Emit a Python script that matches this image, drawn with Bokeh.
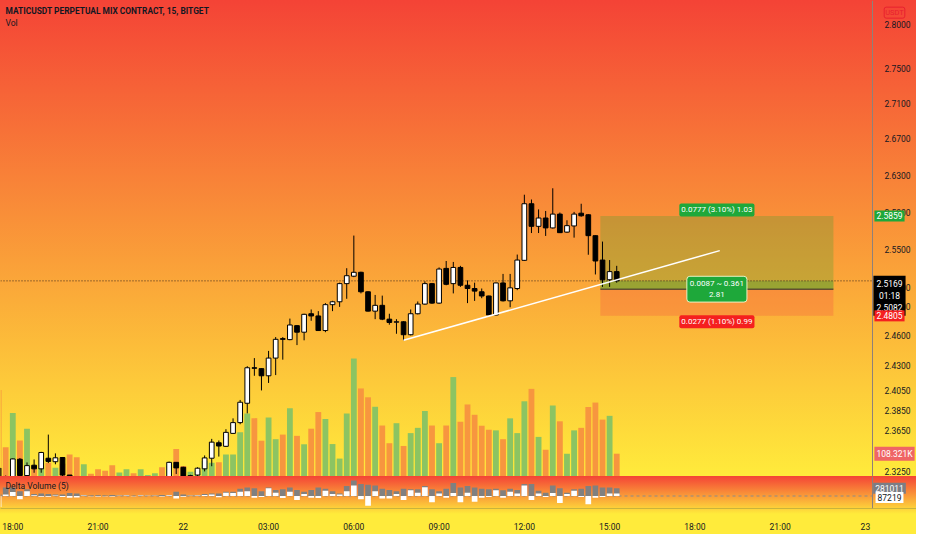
import numpy as np
from bokeh.plotting import figure
from bokeh.models import (Range1d, LinearScale, FixedTicker, PrintfTickFormatter,
                          Label, ColumnDataSource, LogAxis, LinearAxis)
from bokeh.layouts import column
from bokeh.embed import file_html
from bokeh.resources import INLINE

# ---------------- data (15-minute bars, index 0 = 21st 18:00) ----------------
bar_index = list(range(-2, 86))
opens = [2.3282, 2.3185, 2.3165, 2.3368, 2.3210, 2.3310, 2.3275, 2.3378, 2.3344, 2.3385,
         2.3215, 2.3170, 2.3120, 2.3160, 2.3150, 2.3130, 2.3115, 2.3075, 2.3095, 2.3125,
         2.3110, 2.3140, 2.3150, 2.3165, 2.3140, 2.3338, 2.3290, 2.3190, 2.3215, 2.3275,
         2.3378, 2.3529, 2.3494, 2.3621, 2.3727, 2.3919, 2.4275, 2.4266, 2.4194, 2.4373,
         2.4571, 2.4561, 2.4704, 2.4637, 2.4827, 2.4804, 2.4654, 2.4921, 2.4951, 2.5140,
         2.5218, 2.5259, 2.5055, 2.4854, 2.4914, 2.4771, 2.4740, 2.4744, 2.4611, 2.4827,
         2.4927, 2.5140, 2.4937, 2.5300, 2.5140, 2.5310, 2.5123, 2.5089, 2.5055, 2.5011,
         2.4814, 2.5147, 2.4961, 2.5089, 2.5385, 2.5990, 2.5747, 2.5836, 2.5730, 2.5878,
         2.5685, 2.5751, 2.5888, 2.5871, 2.5647, 2.5388, 2.5181, 2.5266]
highs = [2.3290, 2.3210, 2.3375, 2.3380, 2.3337, 2.3366, 2.3440, 2.3609, 2.3425, 2.3390,
         2.3212, 2.3185, 2.3175, 2.3170, 2.3160, 2.3140, 2.3120, 2.3100, 2.3130, 2.3130,
         2.3150, 2.3155, 2.3175, 2.3170, 2.3345, 2.3340, 2.3295, 2.3218, 2.3290, 2.3405,
         2.3567, 2.3551, 2.3662, 2.3769, 2.3952, 2.4291, 2.4373, 2.4270, 2.4446, 2.4587,
         2.4587, 2.4777, 2.4710, 2.4827, 2.4871, 2.4854, 2.4937, 2.4961, 2.5150, 2.5302,
         2.5648, 2.5265, 2.5060, 2.5022, 2.5015, 2.4827, 2.4771, 2.4750, 2.4871, 2.4954,
         2.5164, 2.5147, 2.5310, 2.5378, 2.5368, 2.5327, 2.5174, 2.5150, 2.5089, 2.5015,
         2.5150, 2.5242, 2.5242, 2.5446, 2.6088, 2.6036, 2.5929, 2.5912, 2.6158, 2.5895,
         2.5812, 2.5902, 2.5990, 2.5878, 2.5650, 2.5584, 2.5388, 2.5327]
lows = [2.3150, 2.3140, 2.3150, 2.3180, 2.3190, 2.3237, 2.3237, 2.3331, 2.3319, 2.3200,
        2.3150, 2.3100, 2.3110, 2.3140, 2.3120, 2.3110, 2.3060, 2.3070, 2.3090, 2.3105,
        2.3105, 2.3135, 2.3145, 2.3130, 2.3135, 2.3225, 2.3180, 2.3160, 2.3190, 2.3250,
        2.3300, 2.3394, 2.3488, 2.3615, 2.3711, 2.3819, 2.4194, 2.4047, 2.4122, 2.4201,
        2.4357, 2.4555, 2.4505, 2.4554, 2.4754, 2.4650, 2.4637, 2.4854, 2.4898, 2.4982,
        2.5208, 2.5038, 2.4850, 2.4771, 2.4761, 2.4714, 2.4621, 2.4554, 2.4604, 2.4820,
        2.4921, 2.4930, 2.4930, 2.5123, 2.5038, 2.5106, 2.4937, 2.4960, 2.4988, 2.4810,
        2.4810, 2.4954, 2.4894, 2.5072, 2.5378, 2.5675, 2.5675, 2.5644, 2.5723, 2.5675,
        2.5679, 2.5626, 2.5850, 2.5444, 2.5236, 2.5106, 2.5106, 2.5150]
closes = [2.3180, 2.3160, 2.3371, 2.3210, 2.3306, 2.3275, 2.3434, 2.3347, 2.3382, 2.3215,
          2.3170, 2.3120, 2.3160, 2.3150, 2.3130, 2.3115, 2.3075, 2.3095, 2.3125, 2.3110,
          2.3140, 2.3150, 2.3165, 2.3140, 2.3338, 2.3284, 2.3200, 2.3210, 2.3281, 2.3381,
          2.3535, 2.3497, 2.3631, 2.3727, 2.3929, 2.4275, 2.4270, 2.4194, 2.4373, 2.4564,
          2.4564, 2.4711, 2.4637, 2.4821, 2.4804, 2.4654, 2.4921, 2.4951, 2.5140, 2.5223,
          2.5259, 2.5055, 2.4854, 2.4914, 2.4771, 2.4737, 2.4744, 2.4611, 2.4827, 2.4927,
          2.5140, 2.4937, 2.5293, 2.5133, 2.5310, 2.5123, 2.5089, 2.5062, 2.5011, 2.4814,
          2.5147, 2.4961, 2.5096, 2.5388, 2.5990, 2.5747, 2.5836, 2.5730, 2.5878, 2.5679,
          2.5754, 2.5878, 2.5860, 2.5647, 2.5378, 2.5181, 2.5266, 2.5169]
volume_k = [411, 139, 302, 171, 227, 50, 40, 65, 42, 60, 104, 91, 58, 13, 35, 27, 53, 19,
            35, 16, 35, 7, 16, 44, 50, 130, 50, 22, 27, 73, 65, 68, 104, 104, 210, 299, 277,
            170, 280, 177, 199, 324, 193, 153, 227, 306, 273, 154, 85, 299, 560, 418, 376,
            331, 242, 158, 253, 145, 206, 231, 311, 242, 158, 242, 472, 260, 342, 293, 241,
            222, 219, 177, 276, 206, 357, 416, 188, 127, 337, 262, 108, 219, 231, 330, 351,
            270, 288, 108.321]
delta_gray_k = [84, 308, 308, 168, 243, 75, 93, 75, 56, 56, 112, 93, 37, 19, 28, 19, 37, 19,
                28, 9, 28, 9, 19, 37, 37, 149, 56, 19, 28, 75, 93, 93, 149, 149, 261, 308, 280,
                168, 308, 215, 243, 308, 215, 149, 215, 308, 261, 168, 93, 355, 560, 429, 401,
                373, 261, 215, 168, 261, 243, 243, 355, 243, 168, 261, 467, 308, 355, 308, 261,
                243, 261, 205, 261, 215, 429, 429, 187, 121, 373, 280, 121, 243, 261, 355, 373,
                308, 308, 281.011]
delta_white_k = [-392, 56, 140, -112, 168, 28, -28, -28, 20, -37, -65, -56, 20, -10, -15, -10,
                 -20, 10, 15, -5, 15, 5, 10, -20, 25, -93, -30, 10, 15, 40, 50, -40, 121, 112,
                 149, 168, -65, -37, 280, 121, -75, 150, -140, 75, -65, -75, 187, 75, 56, 168,
                 373, -112, -345, 168, -93, -93, 75, -140, 205, 121, 317, -224, 93, -65, 112,
                 -224, 121, -205, -65, -37, 205, -65, 149, 93, 373, -140, 93, -37, 112, -252,
                 75, 187, -37, -299, -65, -37, 93, 87.219]

time_ticks = [0, 12, 24, 36, 48, 60, 72, 84, 96, 108, 120]
time_labels = ["18:00", "21:00", "22", "03:00", "06:00", "09:00", "12:00", "15:00",
               "18:00", "21:00", "23"]
price_ticks = [2.80, 2.75, 2.71, 2.67, 2.63, 2.59, 2.55, 2.51, 2.49, 2.46, 2.43, 2.405,
               2.385, 2.365, 2.345, 2.325]

last_price = 2.5169
entry_price = 2.5082
target_price = 2.5859
stop_price = 2.4805
position_start = 82.7
position_end = 115.5
trend_x = [55.0, 99.5]
trend_y = [2.4554, 2.5488]
last_volume = 108321
last_gray = 281011
last_white = 87219

title_text = "MATICUSDT PERPETUAL MIX CONTRACT, 15, BITGET"
target_text = "0.0777 (3.10%) 1.03"
stop_text = "0.0277 (1.10%) 0.99"
mid_text = "0.0087 ~ 0.361\n2.81"
countdown = "01:18"

# ---------------- layout / style ----------------
W = 916
AXIS_W = 44
H_MAIN = 476
H_DELTA = 38
H_XAX = 20
X_START, X_END = -1.73, 121.0
X_RIGHT = X_END + AXIS_W * (X_END - X_START) / (W - AXIS_W)
P_LO, P_HI = 2.32008, 2.82843
VOL_HI = 2.2596e6
D_LO, D_HI = -448e3, 700e3
FONT = "Roboto"
TXT = "#131722"
UP_VOL, DN_VOL = "#8cc462", "#f7963f"
AXIS_LINE = "#8f8079"

o = np.array(opens); c = np.array(closes)
up = c >= o
src = ColumnDataSource(dict(
    i=bar_index, high=highs, low=lows,
    btop=np.maximum(o, c), bbot=np.minimum(o, c),
    bcolor=["#ffffff" if u else "#000000" for u in up],
    vol=[v * 1000 for v in volume_k],
    vcolor=[UP_VOL if u else DN_VOL for u in up],
    gray=[v * 1000 for v in delta_gray_k],
    white=[v * 1000 for v in delta_white_k],
))

x_range = Range1d(X_START, X_RIGHT)

# ---------------- main pane ----------------
p1 = figure(width=W, height=H_MAIN, x_range=x_range, y_range=Range1d(P_LO, P_HI),
            y_axis_type="log", x_axis_location=None, y_axis_location=None,
            output_backend="svg", toolbar_location=None, min_border=0)
p1.styles = {"background": "linear-gradient(180deg, #f44336 0%, #ffeb3b 100%)"}
p1.background_fill_alpha = 0
p1.border_fill_alpha = 0
p1.outline_line_color = None
p1.grid.visible = False

ya = LogAxis(fixed_location=X_END, ticker=FixedTicker(ticks=price_ticks),
             formatter=PrintfTickFormatter(format="%.4f"))
ya.major_tick_line_color = None
ya.minor_tick_line_color = None
ya.major_label_standoff = 6
ya.major_label_text_font = FONT
ya.major_label_text_font_size = "8.5px"
ya.major_label_text_color = TXT
ya.axis_line_color = AXIS_LINE
p1.add_layout(ya, "right")

p1.extra_y_ranges = {"vol": Range1d(0, VOL_HI)}
p1.extra_y_scales = {"vol": LinearScale()}

# volume
p1.vbar(x="i", top="vol", bottom=0, width=0.82, fill_color="vcolor", line_color=None,
        y_range_name="vol", source=src)

# position tool
p1.quad(left=position_start, right=position_end, bottom=entry_price, top=target_price,
        fill_color="#2e9e2e", fill_alpha=0.25, line_color=None)
p1.quad(left=position_start, right=position_end, bottom=stop_price, top=entry_price,
        fill_color="#f23645", fill_alpha=0.22, line_color=None)
p1.quad(left=position_start, right=position_end, bottom=entry_price, top=last_price,
        fill_color="#2e9e2e", fill_alpha=0.3, line_color=None)
p1.segment(x0=position_start, x1=position_end, y0=entry_price, y1=entry_price,
           line_color="#2b2b2b", line_width=1)

# last price line
p1.segment(x0=X_START, x1=X_END, y0=last_price, y1=last_price, line_color="#3d2b1f",
           line_dash="1 2", line_width=1)

# candles
p1.segment(x0="i", x1="i", y0="low", y1="high", line_color="#000000", line_width=1, source=src)
p1.vbar(x="i", width=0.66, top="btop", bottom="bbot", fill_color="bcolor",
        line_color="#000000", line_width=1, source=src)

# trend line
p1.line(trend_x, trend_y, line_color="#ffffff", line_width=1.5)


def lab(fig, **kw):
    base = dict(text_font=FONT, text_font_size="8.5px", text_baseline="middle")
    base.update(kw)
    fig.add_layout(Label(**base))


# titles
lab(p1, x=X_START, y=2.8159, x_offset=5, text=title_text, text_color=TXT,
    text_font_style="bold", text_font_size="8.4px")
lab(p1, x=X_START, y=2.8023, x_offset=5, text="Vol", text_color=TXT)

# position labels
mid_x = (position_start + position_end) / 2
lab(p1, x=mid_x, y=target_price, y_offset=6, text=target_text, text_align="center",
    text_color="#ffffff", text_font_size="8px", background_fill_color="#1ea83a",
    padding=2, border_radius=2)
lab(p1, x=mid_x, y=stop_price, y_offset=-6, text=stop_text, text_align="center",
    text_color="#ffffff", text_font_size="8px", background_fill_color="#f51f1f",
    padding=2, border_radius=2)
lab(p1, x=mid_x, y=entry_price, text=mid_text, text_align="center",
    text_color="#ffffff", text_font_size="8px", background_fill_color="#1ea83a",
    border_line_color="#e9f2c4", border_line_width=1, padding=3, border_radius=3)

# axis price labels
lab(p1, x=X_END, y=2.8165, x_offset=22, y_offset=-2, text="USDT", text_align="center",
    text_color="#e8202f", text_font_size="7.5px", border_line_color="#e8202f",
    border_line_width=1, padding=1, border_radius=2)
lab(p1, x=X_END, y=target_price, x_offset=17, text="2.5859", text_align="center",
    text_color="#ffffff", background_fill_color="#1ea83a", padding=2)
lab(p1, x=X_END, y=last_price, x_offset=17, y_offset=5, text_baseline="top",
    text="%.4f\n%s\n%.4f" % (last_price, countdown, entry_price), text_align="center",
    text_color="#ffffff", background_fill_color="#000000", padding=3)
lab(p1, x=X_END, y=stop_price, x_offset=17, text="2.4805", text_align="center",
    text_color="#ffffff", background_fill_color="#f51f1f", padding=2)
lab(p1, x=X_END, y=last_volume, y_range_name="vol", x_offset=22, text="108.321K",
    text_align="center", text_color="#ffffff", background_fill_color="#ef6565", padding=2)

# ---------------- delta volume pane ----------------
p2 = figure(width=W, height=H_DELTA + H_XAX, x_range=x_range, y_range=Range1d(D_LO, D_HI),
            x_axis_location="below", y_axis_location=None,
            output_backend="svg", toolbar_location=None,
            min_border_left=0, min_border_right=0, min_border_top=0,
            min_border_bottom=H_XAX)
p2.styles = {"background": "linear-gradient(180deg, #f44336 0px, #ffeb3b %dpx, #ffeb3b 100%%)" % H_DELTA}
p2.background_fill_alpha = 0
p2.border_fill_alpha = 0
p2.outline_line_color = None
p2.grid.visible = False

xa = p2.xaxis[0]
xa.ticker = FixedTicker(ticks=time_ticks)
xa.major_label_overrides = {t: s for t, s in zip(time_ticks, time_labels)}
xa.major_tick_line_color = None
xa.minor_tick_line_color = None
xa.major_label_standoff = 7
xa.major_label_text_font = FONT
xa.major_label_text_font_size = "8.5px"
xa.major_label_text_color = TXT
xa.axis_line_color = "#c9b43c"

yb = LinearAxis(fixed_location=X_END, ticker=FixedTicker(ticks=[]))
yb.major_tick_line_color = None
yb.minor_tick_line_color = None
yb.major_label_text_alpha = 0
yb.axis_line_color = AXIS_LINE
p2.add_layout(yb, "right")

p2.segment(x0=X_START, x1=X_END, y0=0, y1=0, line_color="#8f8a86", line_dash="3 3",
           line_width=1)
p2.vbar(x="i", top="gray", bottom=0, width=0.8, fill_color="#808080", line_color=None, source=src)
p2.vbar(x="i", top="white", bottom=0, width=0.8, fill_color="#ffffff", line_color=None, source=src)

lab(p2, x=X_START, y=364e3, x_offset=5, text="Delta Volume (5)", text_color=TXT)
lab(p2, x=X_END, y=last_gray, x_offset=17, text=str(last_gray), text_align="center",
    text_color="#ffffff", background_fill_color="#7b7d85", padding=2)
lab(p2, x=X_END, y=last_white, x_offset=17, y_offset=-4, text=str(last_white),
    text_align="center", text_color=TXT, background_fill_color="#ffffff", padding=2)

layout = column(p1, p2, spacing=0)
open("out.html", "w").write(file_html(layout, INLINE))
